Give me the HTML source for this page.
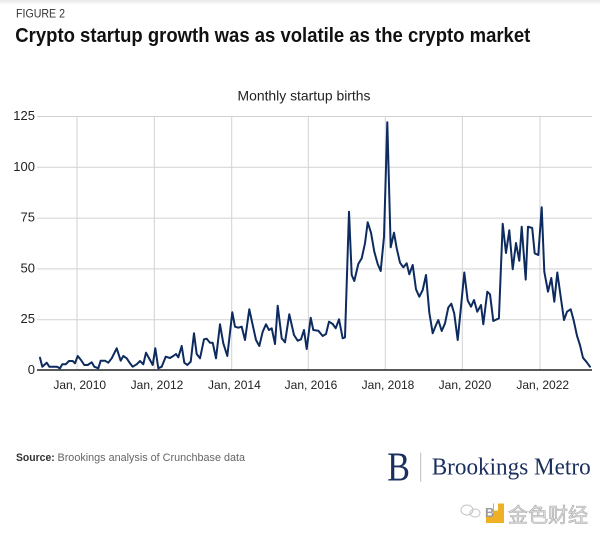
<!DOCTYPE html>
<html>
<head>
<meta charset="utf-8">
<style>
  html,body{margin:0;padding:0;background:#fff;}
  svg{display:block;}
  text{font-family:"Liberation Sans","Noto Sans CJK SC",sans-serif;}
</style>
</head>
<body>
<svg width="600" height="536" viewBox="0 0 600 536" xmlns="http://www.w3.org/2000/svg">
  <defs>
    <linearGradient id="topg" x1="0" y1="0" x2="0" y2="1">
      <stop offset="0" stop-color="#e6e6e6"/>
      <stop offset="1" stop-color="#ffffff"/>
    </linearGradient>
  </defs>
  <rect x="0" y="0" width="600" height="536" fill="#fff"/>
  <rect x="0" y="0" width="600" height="5" fill="url(#topg)"/>

  <!-- Header -->
  <text x="16" y="17.5" font-size="11.5" fill="#333" textLength="49" lengthAdjust="spacingAndGlyphs">FIGURE 2</text>
  <text x="15.3" y="41.8" font-size="20" font-weight="bold" fill="#111" textLength="515" lengthAdjust="spacingAndGlyphs">Crypto startup growth was as volatile as the crypto market</text>

  <text x="237.5" y="100.7" font-size="14" fill="#222" textLength="133" lengthAdjust="spacingAndGlyphs">Monthly startup births</text>

  <!-- Horizontal gridlines -->
  <g stroke="#d2d2d2" stroke-width="1">
    <line x1="37" y1="116.5" x2="592" y2="116.5"/>
    <line x1="37" y1="167.3" x2="592" y2="167.3"/>
    <line x1="37" y1="218.1" x2="592" y2="218.1"/>
    <line x1="37" y1="268.9" x2="592" y2="268.9"/>
    <line x1="37" y1="319.7" x2="592" y2="319.7"/>
  </g>
  <!-- Vertical gridlines -->
  <g stroke="#d2d2d2" stroke-width="1">
    <line x1="77" y1="116" x2="77" y2="370"/>
    <line x1="154.3" y1="116" x2="154.3" y2="370"/>
    <line x1="231.7" y1="116" x2="231.7" y2="370"/>
    <line x1="308.3" y1="116" x2="308.3" y2="370"/>
    <line x1="385.3" y1="116" x2="385.3" y2="370"/>
    <line x1="462.3" y1="116" x2="462.3" y2="370"/>
    <line x1="540" y1="116" x2="540" y2="370"/>
  </g>

  <!-- Y labels -->
  <g font-size="13" fill="#222" text-anchor="end">
    <text x="35" y="120">125</text>
    <text x="35" y="170.8">100</text>
    <text x="35" y="221.6">75</text>
    <text x="35" y="272.4">50</text>
    <text x="35" y="323.2">25</text>
    <text x="35" y="374">0</text>
  </g>

  <!-- X labels -->
  <g font-size="12" fill="#222" text-anchor="middle">
    <text x="79.7" y="389">Jan, 2010</text>
    <text x="157" y="389">Jan, 2012</text>
    <text x="234.4" y="389">Jan, 2014</text>
    <text x="311" y="389">Jan, 2016</text>
    <text x="388" y="389">Jan, 2018</text>
    <text x="465" y="389">Jan, 2020</text>
    <text x="542.7" y="389">Jan, 2022</text>
  </g>

  <!-- Data line -->
  <polyline fill="none" stroke="#0d2b5e" stroke-width="2" stroke-linejoin="round" stroke-linecap="round"
    points="40,357.7 42.3,366.7 46.7,362.7 49.3,366.7 56.7,366.7 60,368.3 62.3,364.3 65.7,364.3 69,361 72.7,361 75,363.3 77.7,356 81,360 84.3,365 87.7,365 91.7,362.3 94.3,366.7 98.3,368.3 100.7,360.7 105,360.7 108.3,362.7 111.7,358.3 116.7,348.3 120.7,360.7 123.3,356 126.7,358.3 130,363.3 132.7,366.7 136.7,364.3 140,361 143.3,364.3 146,352.7 150,360 152.7,365 155.3,348.3 158.3,368.3 161.7,366.7 165.7,356.7 170,358 173.3,356 176,354 178.3,357.3 181.7,346 184.3,362.7 187.3,365 190.7,361.7 194,333.3 196.7,354 200,358.3 204,339.3 206.7,338.7 210,342.7 212.7,342.7 216,358.3 220,324.3 223.3,343.3 227.3,356 232.3,312.3 235,326.7 238.3,327.7 241.7,326.7 245,340 249.3,309.3 252.7,325 256,340 259.3,346 262.7,331.7 266,324.3 269,330 271.7,328.3 275,344 277.7,305.7 281.7,338.3 285,342.3 289.3,314.3 294,335 297.7,340.7 301,339.3 304,330 306.7,349 310.7,317.7 313.3,330 318.3,330.7 322.7,336 326,334 329,321.7 332.7,324 335.7,328.3 339,319.3 342.7,338.3 345,337.3 349,211.7 351.7,275 354.3,281 358.3,264 361.7,258.3 365,243.3 367.7,222.3 371,232.7 374.3,251.7 377.7,264 380.7,271 384,236.7 387.3,122.3 390.7,247.3 394,232.7 396.7,248.3 400,262.7 403.3,267.3 406.7,263.3 409.3,274.3 412.7,265 416,289.3 419.3,296.7 422.7,290 426,275 429.3,312.5 432.7,333.3 436,325 438.3,320 441.7,331 445,323.3 448.3,307.5 451.3,303.7 454.2,313.3 457.7,340 461,306.7 464.3,272.5 467.7,300.5 471,306.7 474,300 477.3,311.7 481,305 483.3,324.3 487.3,291.7 490,294.3 493.3,321 498.9,318.3 502.7,223.7 506,253 509.3,230.3 512.7,269.2 516,243 519.3,260.8 521.7,226.7 525.7,279.6 528,226.7 532.2,228 534.7,253.3 538.3,255 541.7,207.3 544.3,271.7 548,291.7 551.3,278 554.3,301.7 557.3,272.5 560.8,297.5 564,320 567,311.7 570.7,309.3 573.7,320.5 577,335.8 580,345.2 583,357.8 586.3,361.7 590,366.7"/>

  <!-- Baseline axis -->
  <line x1="37" y1="370" x2="592" y2="370" stroke="#222" stroke-width="1.6"/>

  <!-- Source -->
  <text x="16" y="461" font-size="11" fill="#333"><tspan font-weight="bold" textLength="38.7" lengthAdjust="spacingAndGlyphs">Source:</tspan></text>
  <text x="57.5" y="461" font-size="11" fill="#666" textLength="187.5" lengthAdjust="spacingAndGlyphs">Brookings analysis of Crunchbase data</text>

  <!-- Brookings Metro logo -->
  <text x="387.3" y="480.7" font-family="Liberation Serif, serif" font-size="41" fill="#1b2f5e" textLength="22.7" lengthAdjust="spacingAndGlyphs" style="font-family:'Liberation Serif',serif">B</text>
  <line x1="420.7" y1="452.7" x2="420.7" y2="481.7" stroke="#bdbdbd" stroke-width="1"/>
  <text x="431.7" y="474.3" font-size="24" fill="#1b2f5e" textLength="159" lengthAdjust="spacingAndGlyphs" style="font-family:'Liberation Serif',serif">Brookings Metro</text>

  <!-- Watermark -->
  <g fill="none" stroke="#c4c4c4" stroke-width="1">
    <ellipse cx="467" cy="510" rx="6" ry="5"/>
    <ellipse cx="475" cy="513" rx="5" ry="4"/>
  </g>
  <rect x="486" y="503.5" width="18" height="19.5" fill="#f0b025"/>
  <rect x="486" y="503.5" width="7" height="12" fill="#fff"/>
  <rect x="494" y="503.5" width="4" height="7" fill="#fff"/>
  <text x="485" y="517" font-size="13" font-weight="bold" fill="#9a9a9a">B</text>
  <text x="508" y="522" font-size="20" fill="#e2e2e2" stroke="#a8a8a8" stroke-width="0.6" textLength="80" lengthAdjust="spacingAndGlyphs" style="font-family:'Liberation Sans','Noto Sans CJK SC',sans-serif">金色财经</text>
</svg>
</body>
</html>
